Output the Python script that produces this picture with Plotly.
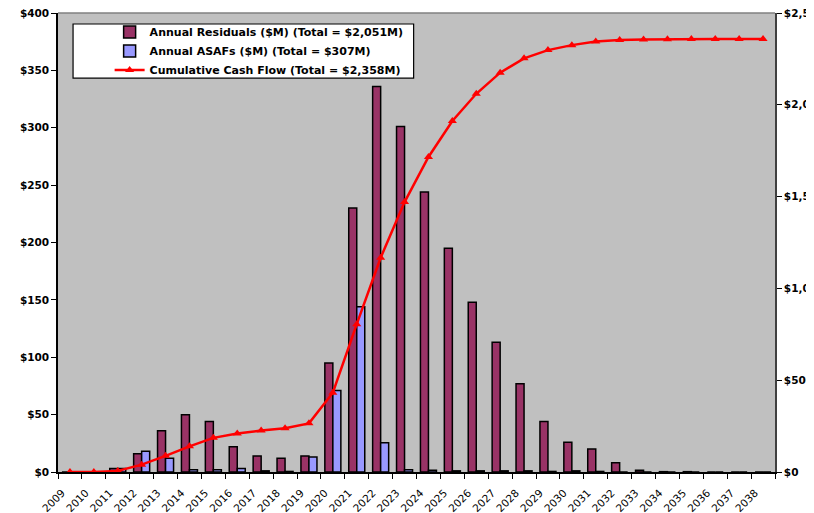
import plotly.graph_objects as go

years = [str(y) for y in range(2009, 2039)]
residuals = [0, 0, 3, 16, 36, 50, 44, 22, 14, 12, 14, 95, 230, 336, 301, 244, 195, 148, 113, 77,
             44, 26, 20, 8, 1.5, 0.3, 0.3, 0, 0, 0]
asafs = [0, 0, 3, 18, 12, 2, 2, 3, 1, 0.5, 13, 71, 144, 25.5, 2, 1.5, 1, 1, 1, 1,
         0.5, 1, 0.5, 0, 0, 0, 0, 0, 0, 0]
cumulative = [0, 0, 6, 40, 88, 140, 186, 210, 226, 238, 265, 432, 805, 1167, 1470, 1716, 1912, 2060,
              2175, 2253, 2298, 2325, 2345, 2353, 2355, 2357, 2358, 2358, 2358, 2358]

left_ticks = list(range(0, 401, 50))
right_ticks = list(range(0, 2501, 500))

FONT = "DejaVu Sans, Liberation Sans, Arial, sans-serif"

fig = go.Figure()
fig.add_trace(go.Bar(x=years, y=residuals, name="<b>Annual Residuals ($M) (Total = $2,051M)</b>",
                     marker=dict(color="#993366", line=dict(color="black", width=1.5))))
fig.add_trace(go.Bar(x=years, y=asafs, name="<b>Annual ASAFs ($M) (Total = $307M)</b>",
                     marker=dict(color="#9999FF", line=dict(color="black", width=1.5))))
fig.add_trace(go.Scatter(x=years, y=cumulative, yaxis="y2", mode="lines+markers",
                         name="<b>Cumulative Cash Flow (Total = $2,358M)</b>",
                         line=dict(color="#FF0000", width=2.5),
                         marker=dict(symbol="triangle-up", size=8, color="#FF0000")))

# page body has an 8px margin, so the figure is 8px smaller and margins shifted
fig.update_layout(
    width=806, height=505,
    template="none",
    margin=dict(l=50, r=39, t=5, b=41, autoexpand=False),
    paper_bgcolor="white",
    plot_bgcolor="#C0C0C0",
    barmode="group", bargap=0.33, bargroupgap=0,
    font=dict(family=FONT, size=10, color="black"),
    showlegend=True,
    legend=dict(x=0.072, y=0.99, xanchor="left", yanchor="top",
                bgcolor="rgba(0,0,0,0)", borderwidth=0,
                font=dict(family=FONT, size=11, color="black"),
                tracegroupgap=0, traceorder="normal"),
    xaxis=dict(type="category", range=[-0.5, 29.5], tickangle=-45,
               tickfont=dict(family=FONT, size=10.5, color="black"),
               ticks="outside", ticklen=5, tickcolor="black", tickson="boundaries",
               ticklabelstandoff=9, ticklabelshift=-8,
               showline=True, linecolor="black", linewidth=1.5, showgrid=False,
               zeroline=False, automargin=False),
    yaxis=dict(range=[0, 400], tickvals=left_ticks,
               ticktext=["<b>$%d</b>" % v for v in left_ticks],
               tickfont=dict(family=FONT, size=10.5, color="black"),
               ticks="outside", ticklen=5, tickcolor="black", ticklabeloverflow="allow",
               showline=True, linecolor="black", linewidth=1.5, showgrid=False,
               zeroline=False, automargin=False),
    yaxis2=dict(range=[0, 2500], overlaying="y", side="right", tickvals=right_ticks,
                ticktext=["<b>${:,}</b>".format(v) for v in right_ticks],
                tickfont=dict(family=FONT, size=10.5, color="black"),
                ticks="outside", ticklen=5, tickcolor="black", ticklabeloverflow="allow",
                showline=True, linecolor="#404040", linewidth=1.5, showgrid=False,
                zeroline=False, automargin=False),
    shapes=[
        dict(type="line", xref="paper", yref="paper", x0=0, x1=1, y0=1, y1=1,
             line=dict(color="#808080", width=1.5)),
        dict(type="rect", xref="paper", yref="paper", x0=0.021, x1=0.496, y0=0.858, y1=0.976,
             fillcolor="white", line=dict(color="black", width=1.2), layer="below"),
    ],
)

fig.write_html("out.html")
